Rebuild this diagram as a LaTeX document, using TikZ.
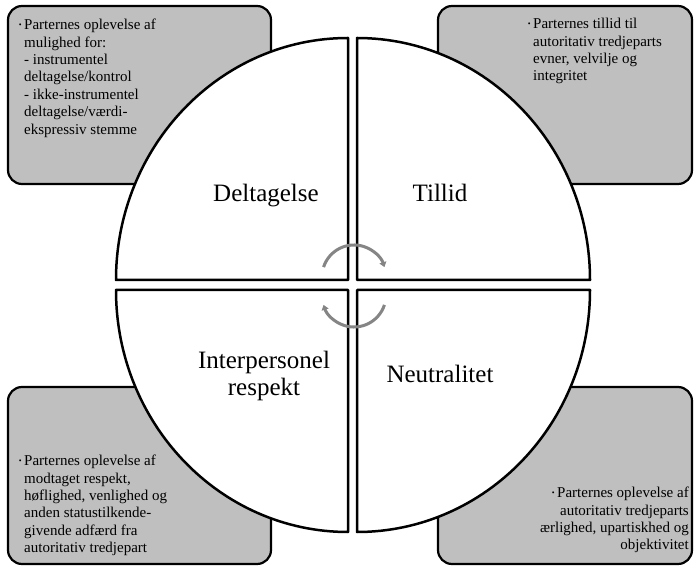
\documentclass[tikz,border=0pt]{standalone}
\usepackage{fontspec}
\setmainfont{Liberation Serif}
\usetikzlibrary{arrows.meta}
\newcommand\mybul{\raisebox{2.5pt}{\fontsize{8}{8}\selectfont\textbullet}\,}
\begin{document}
\begin{tikzpicture}[x=1pt,y=1pt,
  box/.style={draw=black, line width=2.2pt, fill=black!25, rounded corners=14pt},
  quad/.style={draw=black, line width=2.5pt, fill=white, line join=round},
  lbl/.style={font=\fontsize{25}{27}\selectfont, inner sep=0pt, align=center},
  desc/.style={font=\fontsize{15}{17.4}\selectfont, inner sep=0pt},
  cyc/.style={draw=black!48, line width=3pt, -{Triangle[length=5pt,width=7pt]}}
]
\useasboundingbox[fill=white] (0,0) rectangle (696,568);
% corner boxes
\draw[box] (8,384) rectangle (271,562);
\draw[box] (438,384) rectangle (692,562);
\draw[box] (8,4) rectangle (271,181);
\draw[box] (438,4) rectangle (692,181);
% quadrants
\draw[quad] (348,288) -- (348,530) arc[start angle=90, end angle=180, x radius=232, y radius=242] -- cycle;
\draw[quad] (357,288) -- (590,288) arc[start angle=0, end angle=90, x radius=233, y radius=242] -- cycle;
\draw[quad] (348,278) -- (116,278) arc[start angle=180, end angle=270, x radius=232, y radius=242] -- cycle;
\draw[quad] (357,278) -- (357,36) arc[start angle=270, end angle=360, x radius=233, y radius=242] -- cycle;
% labels
\node[lbl, anchor=base] (delt) at (266,366) {Deltagelse};
\node[lbl, anchor=base] (till) at (440,366) {Tillid};
\node[lbl] (inter) at (264,192) {Interpersonel\\respekt};
\node[lbl, anchor=base] (neut) at (440,185) {Neutralitet};
% descriptions
\node[desc, anchor=north west, align=left] (tltext) at (24,549)
  {\llap{\mybul}Parternes oplevelse af\\mulighed for:\\- instrumentel\\deltagelse/kontrol\\- ikke-instrumentel\\deltagelse/værdi-\\ekspressiv stemme};
\node[desc, anchor=north west, align=left] (trtext) at (533,550)
  {\llap{\mybul}Parternes tillid til\\autoritativ tredjeparts\\evner, velvilje og\\integritet};
\node[desc, anchor=north west, align=left] (bltext) at (24,113)
  {\llap{\mybul}Parternes oplevelse af\\modtaget respekt,\\høflighed, venlighed og\\anden statustilkende-\\givende adfærd fra\\autoritativ tredjepart};
\node[desc, anchor=north east, align=right] (brtext) at (689,81)
  {\mybul Parternes oplevelse af\\autoritativ tredjeparts\\ærlighed, upartiskhed og\\objektivitet};
% cycle arrows
\coordinate (up) at (354,291);
\coordinate (dn) at (354,273);
\draw[cyc] ([shift={(162:32)}]up) arc[start angle=162, end angle=18, radius=32];
\draw[cyc] ([shift={(-18:32)}]dn) arc[start angle=-18, end angle=-162, radius=32];
\end{tikzpicture}
\end{document}
